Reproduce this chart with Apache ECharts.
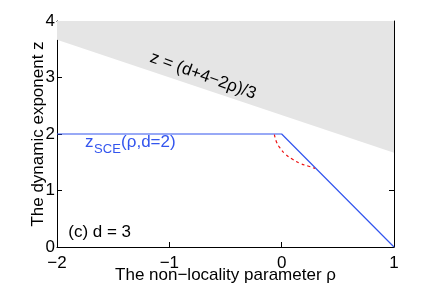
<!DOCTYPE html>
<html><head><meta charset="utf-8">
<script src="https://cdn.jsdelivr.net/npm/echarts@6/dist/echarts.min.js"></script>
<style>html,body{margin:0;padding:0;background:#fff}#c{width:436px;height:285px}</style>
</head><body><div id="c"></div>
<script>
const boundaryRho = [-2, 1];
const boundaryZ = [11/3, 5/3];
const sceRho = [-2, 0, 1];
const sceZ = [2, 2, 0];
const redRho = [-0.065, -0.044, -0.014, 0.030, 0.090, 0.164, 0.240, 0.297];
const redZ = [1.99, 1.85, 1.75, 1.65, 1.56, 1.48, 1.43, 1.39];
const xTicks = [-2, -1, 0, 1];
const yTicks = [0, 1, 2, 3, 4];

const F = 'Liberation Sans, Arial, sans-serif';
const chart = echarts.init(document.getElementById('c'), null, {renderer: 'canvas'});
const zip = (a, b) => a.map((v, i) => [v, b[i]]);
const fmtX = v => String(v).replace('-', '\u2212');

chart.setOption({
  animation: false,
  grid: {left: 57, right: 42, top: 21, bottom: 38, containLabel: false, outerBoundsMode: 'none'},
  xAxis: [{
    type: 'value', min: -2, max: 1, interval: 1,
    axisLine: {onZero: false, lineStyle: {color: '#000', width: 1}},
    axisTick: {inside: true, length: 5, lineStyle: {color: '#000'}},
    axisLabel: {color: '#000', fontSize: 17, fontFamily: F, margin: 8, formatter: fmtX},
    splitLine: {show: false},
    name: 'The non\u2212locality parameter \u03c1', nameLocation: 'middle', nameGap: 20,
    nameMoveOverlap: false,
    nameTextStyle: {color: '#000', fontSize: 17, fontFamily: F}
  }, {
    type: 'value', min: -2, max: 1, interval: 1, position: 'top',
    axisLine: {show: true, onZero: false, lineStyle: {color: '#000'}},
    axisTick: {inside: true, length: 5, lineStyle: {color: '#000'}},
    axisLabel: {show: false}, splitLine: {show: false}
  }],
  yAxis: [{
    type: 'value', min: 0, max: 4, interval: 1,
    axisLine: {show: true, onZero: false, lineStyle: {color: '#000'}},
    axisTick: {show: true, inside: true, length: 5, lineStyle: {color: '#000'}},
    axisLabel: {color: '#000', fontSize: 17, fontFamily: F, margin: 2},
    splitLine: {show: false},
    name: 'The dynamic exponent z', nameLocation: 'middle', nameGap: 10,
    nameMoveOverlap: false,
    nameTextStyle: {color: '#000', fontSize: 17, fontFamily: F}
  }, {
    type: 'value', min: 0, max: 4, interval: 1, position: 'right',
    axisLine: {show: true, onZero: false, lineStyle: {color: '#000'}},
    axisTick: {show: true, inside: true, length: 5, lineStyle: {color: '#000'}},
    axisLabel: {show: false}, splitLine: {show: false}
  }],
  series: [{
    type: 'line', data: zip(boundaryRho, boundaryZ), symbol: 'none',
    lineStyle: {width: 0}, areaStyle: {color: '#e5e5e5', opacity: 1, origin: 'end'}, z: 1
  }, {
    type: 'line', data: zip(sceRho, sceZ), symbol: 'none',
    lineStyle: {color: '#3355ee', width: 1.2}, z: 3
  }, {
    type: 'line', data: zip(redRho, redZ), symbol: 'none', smooth: true,
    lineStyle: {color: '#ee1111', width: 1.2, type: [3, 3]}, z: 4
  }]
});

function px(x, y) { return chart.convertToPixel({xAxisIndex: 0, yAxisIndex: 0}, [x, y]); }
const a1 = px(-0.70, 3.03);
const a2 = px(-1.75, 1.71);
const a3 = px(-1.90, 0.26);
chart.setOption({
  graphic: [
    {type: 'text', z: 100, x: a1[0], y: a1[1], rotation: -0.345,
     style: {text: 'z = (d+4\u22122\u03c1)/3', font: '17px ' + F, fill: '#000', align: 'center', verticalAlign: 'middle'}},
    {type: 'text', z: 100, x: a2[0], y: a2[1],
     style: {text: 'z', font: '17px ' + F, fill: '#3355ee', align: 'left', verticalAlign: 'bottom'}},
    {type: 'text', z: 100, x: a2[0] + 9, y: a2[1] + 6,
     style: {text: 'SCE', font: '13px ' + F, fill: '#3355ee', align: 'left', verticalAlign: 'bottom'}},
    {type: 'text', z: 100, x: a2[0] + 36, y: a2[1],
     style: {text: '(\u03c1,d=2)', font: '17px ' + F, fill: '#3355ee', align: 'left', verticalAlign: 'bottom'}},
    {type: 'text', z: 100, x: a3[0], y: a3[1],
     style: {text: '(c) d = 3', font: '17px ' + F, fill: '#000', align: 'left', verticalAlign: 'middle'}}
  ]
});
</script></body></html>
